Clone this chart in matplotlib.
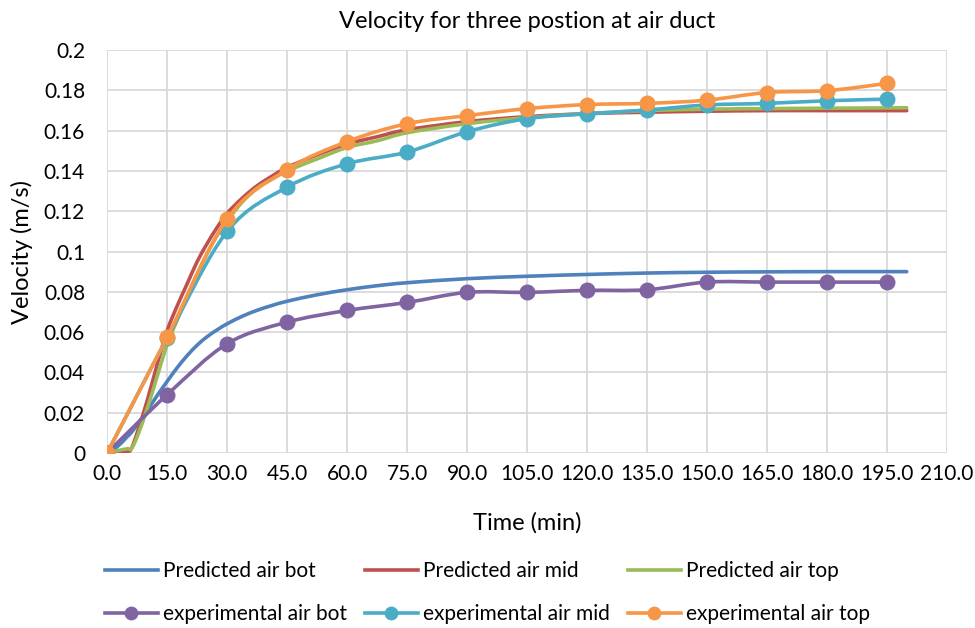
import matplotlib
matplotlib.use("Agg")
import matplotlib.pyplot as plt
from matplotlib.path import Path
from matplotlib.patches import PathPatch
from matplotlib.lines import Line2D

plt.rcParams['font.family'] = ['Lato', 'DejaVu Sans']

# measured samples, every 15 min
t_exp = [0, 15, 30, 45, 60, 75, 90, 105, 120, 135, 150, 165, 180, 195]
exp_bot = [0, 0.0289, 0.0542, 0.0649, 0.0707, 0.0747, 0.0797, 0.0797, 0.0807, 0.081, 0.0848, 0.0848, 0.0848, 0.0848]
exp_mid = [0, 0.057, 0.110, 0.132, 0.1436, 0.1494, 0.1595, 0.166, 0.1684, 0.1703, 0.1728, 0.1736, 0.1749, 0.1757]
exp_top = [0, 0.0575, 0.1162, 0.1407, 0.1546, 0.1635, 0.1675, 0.171, 0.173, 0.1736, 0.1752, 0.179, 0.1799, 0.1835]

# model output
t_pred = [0, 2.5, 5, 6, 7.5, 10, 12.5, 15, 17.5, 20, 22.5, 25, 27.5, 30, 33.75, 37.5, 41.25, 45, 52.5, 60, 67.5,
          75, 90, 105, 120, 135, 150, 165, 180, 200]
pred_bot = [0, 0.003, 0.008, 0.010, 0.014, 0.021, 0.0285, 0.0355, 0.0423, 0.0483, 0.0535, 0.0577, 0.0611, 0.0641,
            0.0678, 0.0708, 0.0732, 0.0753, 0.0785, 0.081, 0.083, 0.0845, 0.0865, 0.0877, 0.0886, 0.0893, 0.0897,
            0.0899, 0.090, 0.090]
pred_mid = [0, 0, 0.0005, 0.002, 0.010, 0.026, 0.044, 0.0608, 0.073, 0.084, 0.095, 0.104, 0.112, 0.119, 0.1265,
            0.1327, 0.1375, 0.1418, 0.148, 0.1534, 0.157, 0.1605, 0.1645, 0.167, 0.1685, 0.1692, 0.1697, 0.170,
            0.170, 0.170]
pred_top = [0, 0.001, 0.002, 0.002, 0.008, 0.022, 0.038, 0.054, 0.066, 0.078, 0.089, 0.099, 0.108, 0.1153, 0.1245,
            0.1315, 0.136, 0.140, 0.146, 0.1517, 0.155, 0.159, 0.1635, 0.1665, 0.1685, 0.170, 0.1707, 0.171,
            0.1712, 0.1714]

x_ticks = list(range(0, 211, 15))
y_ticks = [0, 0.02, 0.04, 0.06, 0.08, 0.1, 0.12, 0.14, 0.16, 0.18, 0.2]


def smooth_path(xs, ys):
    # cardinal-spline style bezier through every point
    n = len(xs)
    verts = [(xs[0], ys[0])]
    codes = [Path.MOVETO]
    for i in range(n - 1):
        x0, y0 = (xs[i - 1], ys[i - 1]) if i > 0 else (xs[i], ys[i])
        x3, y3 = (xs[i + 2], ys[i + 2]) if i + 2 < n else (xs[i + 1], ys[i + 1])
        c1 = (xs[i] + (xs[i + 1] - x0) / 6, ys[i] + (ys[i + 1] - y0) / 6)
        c2 = (xs[i + 1] - (x3 - xs[i]) / 6, ys[i + 1] - (y3 - ys[i]) / 6)
        verts += [c1, c2, (xs[i + 1], ys[i + 1])]
        codes += [Path.CURVE4] * 3
    return Path(verts, codes)


fig = plt.figure(figsize=(9.75, 6.28), dpi=100)
ax = fig.add_axes([0.110, 0.279, 0.861, 0.641])

lw = 2.6
ms = 10.5
series = [
    (t_pred, pred_bot, '#4F81BD', False, 'Predicted air bot'),
    (t_pred, pred_mid, '#C0504D', False, 'Predicted air mid'),
    (t_pred, pred_top, '#9BBB59', False, 'Predicted air top'),
    (t_exp, exp_bot, '#8064A2', True, 'experimental air bot'),
    (t_exp, exp_mid, '#4BACC6', True, 'experimental air mid'),
    (t_exp, exp_top, '#F79646', True, 'experimental air top'),
]
handles = []
for z, (xs, ys, col, mk, name) in enumerate(series):
    ax.add_patch(PathPatch(smooth_path(xs, ys), fill=False, edgecolor=col, lw=lw,
                           capstyle='round', joinstyle='round', zorder=2 + z))
    if mk:
        ax.plot(xs, ys, ls='none', marker='o', ms=ms, color=col, zorder=2 + z)
    handles.append(Line2D([], [], color=col, lw=lw, marker='o' if mk else None, ms=ms, label=name))

ax.set_xlim(0, 210)
ax.set_ylim(0, 0.2)
ax.set_xticks(x_ticks)
ax.set_xticklabels(['%.1f' % v for v in x_ticks])
ax.set_yticks(y_ticks)
ax.set_yticklabels(['%g' % v for v in y_ticks])
ax.tick_params(length=0, labelsize=15, colors='#000000')
ax.tick_params(axis='y', pad=16)
ax.tick_params(axis='x', pad=8)
for s in ax.spines.values():
    s.set_visible(False)
ax.grid(True, color='#d9d9d9', lw=1.3)
ax.set_axisbelow(True)

ax.set_title('Velocity for three postion at air duct', fontsize=17, pad=16)
ax.set_xlabel('Time (min)', fontsize=17, labelpad=20)
ax.set_ylabel('Velocity (m/s)', fontsize=17, labelpad=8)

# column-major fill: predicted on the first row, experimental on the second
order = [0, 3, 1, 4, 2, 5]
fig.legend([handles[i] for i in order], [handles[i].get_label() for i in order],
           ncol=3, loc='upper center', bbox_to_anchor=(0.5, 0.136),
           frameon=False, fontsize=15, handlelength=2.55, columnspacing=0.85,
           handletextpad=0.25, labelspacing=1.1, markerscale=0.85)

fig.savefig('out.png', dpi=100)
